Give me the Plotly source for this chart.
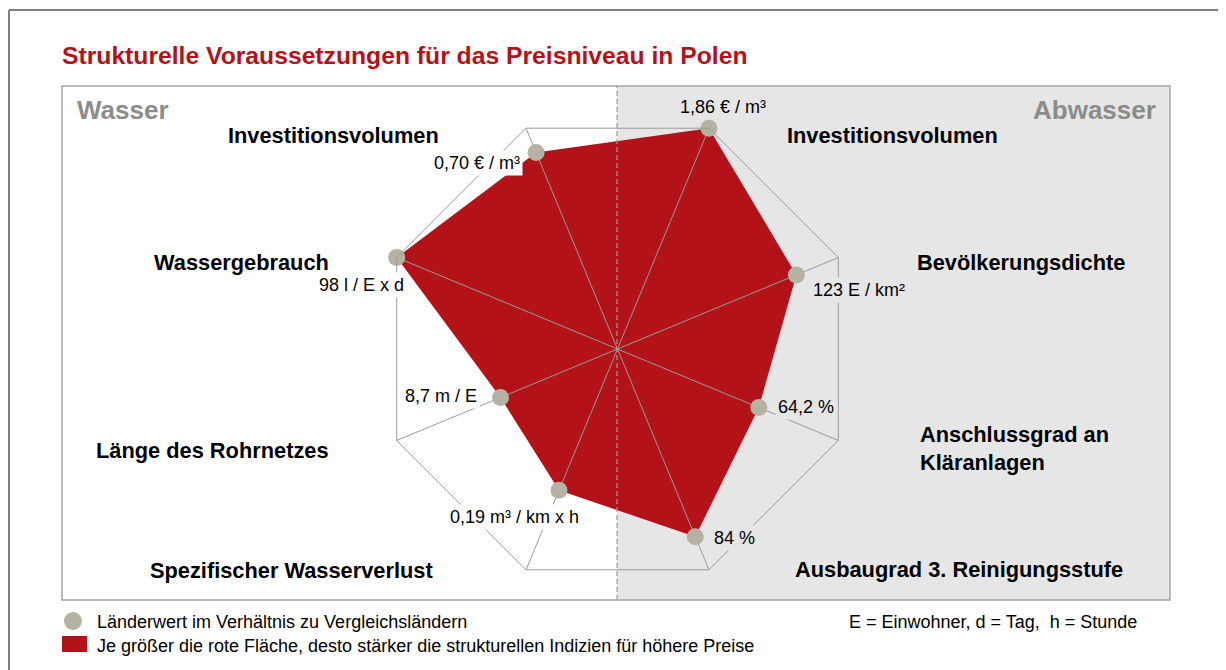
import plotly.graph_objects as go

W, H = 1226, 670
# the html body adds an 8px margin, pixel positions below are page positions
OFF = 8

# spokes, clockwise from the top-right one
categories = ["Investitionsvolumen Abwasser", "Bevölkerungsdichte", "Anschlussgrad an Kläranlagen",
              "Ausbaugrad 3. Reinigungsstufe", "Spezifischer Wasserverlust", "Länge des Rohrnetzes",
              "Wassergebrauch", "Investitionsvolumen Wasser"]
values = [1.0, 0.81, 0.64, 0.85, 0.64, 0.53, 1.0, 0.89]
value_labels = ["1,86 € / m³", "123 E / km²", "64,2 %", "84 %",
                "0,19 m³ / km x h", "8,7 m / E", "98 l / E x d", "0,70 € / m³"]
axis_labels = ["Investitionsvolumen", "Bevölkerungsdichte", "Anschlussgrad an<br>Kläranlagen",
               "Ausbaugrad 3. Reinigungsstufe", "Spezifischer Wasserverlust", "Länge des Rohrnetzes",
               "Wassergebrauch", "Investitionsvolumen"]

RED = "#b41219"
DOT = "#b5b2a3"
PANEL = "#e6e6e6"
FONT = "Liberation Sans, Arial, sans-serif"


def X(x):
    return (x - OFF) / W


def Y(y):
    return 1 - (y - OFF) / H


# where the texts sit (pixel centres)
value_pos = [(723, 107), (859, 290), (806, 407), (734, 538), (514, 517), (441, 396), (361, 285), (477, 163)]
value_bg = [PANEL, PANEL, PANEL, PANEL, "white", "white", "white", "white"]
axis_pos = [(892, 135), (1021, 262), (918, 448), (959, 569), (291, 570), (212, 450), (241, 262), (333, 135)]

cx, cy, R = 617.5, 349, 239

fig = go.Figure()

fig.add_trace(go.Scatterpolar(
    r=values + values[:1], theta=categories + categories[:1],
    mode="lines", fill="toself", fillcolor=RED,
    line=dict(color=RED, width=0), hoverinfo="skip"
))

# spokes over the red area (polar grid lines always sit under the traces)
spoke_r, spoke_t = [], []
for c in categories:
    spoke_r += [0, 1, None]
    spoke_t += [c, c, None]
fig.add_trace(go.Scatterpolar(
    r=spoke_r, theta=spoke_t, mode="lines",
    line=dict(color="#999999", width=1), hoverinfo="skip", connectgaps=False
))

fig.add_trace(go.Scatterpolar(
    r=values, theta=categories, mode="markers",
    marker=dict(size=17, color=DOT), text=value_labels, hoverinfo="text+theta"
))

annotations = []
for txt, (x, y), bg in zip(value_labels, value_pos, value_bg):
    annotations.append(dict(text=txt, x=X(x), y=Y(y), xanchor="center", yanchor="middle",
                            bgcolor=bg, borderpad=2, font=dict(size=18, color="black", family=FONT)))
for i, (txt, (x, y)) in enumerate(zip(axis_labels, axis_pos)):
    left = i == 2
    annotations.append(dict(text="<b>" + txt + "</b>", x=X(x), y=Y(y),
                            xanchor="left" if left else "center", yanchor="middle",
                            align="left" if left else "center",
                            font=dict(size=21.8, color="black", family=FONT)))

annotations += [
    dict(text="<b>Wasser</b>", x=X(75), y=Y(110), xanchor="left", yanchor="middle",
         font=dict(size=26, color="#8c8c8c", family=FONT)),
    dict(text="<b>Abwasser</b>", x=X(1158), y=Y(110), xanchor="right", yanchor="middle",
         font=dict(size=26, color="#8c8c8c", family=FONT)),
    dict(text="Länderwert im Verhältnis zu Vergleichsländern", x=X(95), y=Y(622),
         xanchor="left", yanchor="middle", font=dict(size=18, color="black", family=FONT)),
    dict(text="Je größer die rote Fläche, desto stärker die strukturellen Indizien für höhere Preise",
         x=X(95), y=Y(646), xanchor="left", yanchor="middle",
         font=dict(size=18, color="black", family=FONT)),
    dict(text="E = Einwohner, d = Tag,  h = Stunde", x=X(847), y=Y(622),
         xanchor="left", yanchor="middle", font=dict(size=18, color="black", family=FONT)),
]
for a in annotations:
    a.update(xref="paper", yref="paper", showarrow=False)

shapes = [
    # outer frame (top and left only)
    dict(type="line", x0=X(9), x1=1, y0=Y(10), y1=Y(10), line=dict(color="#7f7f7f", width=2)),
    dict(type="line", x0=X(9), x1=X(9), y0=Y(10), y1=0, line=dict(color="#7f7f7f", width=2)),
    # panels
    dict(type="rect", x0=X(617), x1=X(1170), y0=Y(600), y1=Y(86), fillcolor=PANEL,
         line=dict(width=0), layer="below"),
    dict(type="rect", x0=X(62), x1=X(1170), y0=Y(600), y1=Y(86), fillcolor="rgba(0,0,0,0)",
         line=dict(color="#a6a6a6", width=1.5), layer="below"),
    dict(type="line", x0=X(617), x1=X(617), y0=Y(600), y1=Y(86),
         line=dict(color="#9a9a9a", width=1.2, dash="5px,3px"), layer="above"),
    # legend symbols
    dict(type="circle", x0=X(64), x1=X(82), y0=Y(630), y1=Y(612), fillcolor=DOT, line=dict(width=0)),
    dict(type="rect", x0=X(62), x1=X(87), y0=Y(652), y1=Y(636), fillcolor=RED, line=dict(width=0)),
]
for s in shapes:
    s.update(xref="paper", yref="paper")

fig.update_layout(
    width=W, height=H,
    margin=dict(l=0, r=0, t=0, b=0),
    paper_bgcolor="white",
    showlegend=False,
    font=dict(family=FONT),
    title=dict(text="<b>Strukturelle Voraussetzungen für das Preisniveau in Polen</b>",
               x=X(62), xanchor="left", y=Y(55), yanchor="middle",
               font=dict(size=24.7, color="#b41219", family=FONT)),
    polar=dict(
        domain=dict(x=[X(cx - R), X(cx + R)], y=[Y(cy + R), Y(cy - R)]),
        bgcolor="rgba(0,0,0,0)",
        gridshape="linear",
        radialaxis=dict(range=[0, 1], showgrid=False, showline=False, showticklabels=False, ticks=""),
        angularaxis=dict(type="category", categoryarray=categories, direction="clockwise",
                         rotation=67.5, showline=True, linecolor="#9a9a9a", linewidth=1,
                         showgrid=False, showticklabels=False, ticks="", layer="above traces"),
    ),
    annotations=annotations,
    shapes=shapes,
)

fig.write_html("out.html")
